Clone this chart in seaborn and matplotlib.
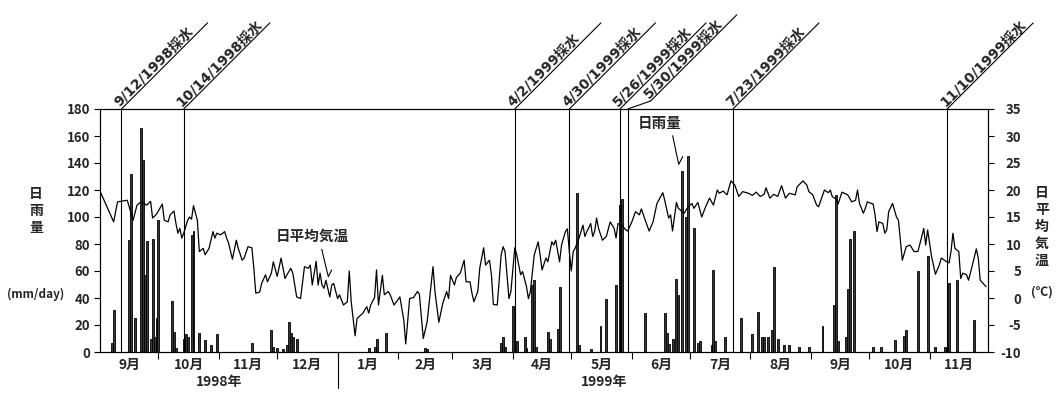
import numpy as np
import pandas as pd
import matplotlib
matplotlib.use('Agg')
import matplotlib.pyplot as plt
import matplotlib.transforms as mtransforms
import seaborn as sns

# ---------------- data ----------------
start = pd.Timestamp('1998-09-01')

# daily rainfall (day offset from 1998-09-01, mm/day)
rain_day = [6, 7, 15, 16, 18, 21, 22, 23, 24, 26, 27, 28, 29, 30, 37, 38, 39,
            43, 44, 45, 47, 48, 51, 54, 57, 60, 78, 88, 89, 91, 94, 96, 97, 98,
            99, 101, 138, 141, 142, 147, 167, 168, 206, 207, 208, 212, 214, 218,
            219, 222, 223, 224, 230, 231, 235, 236, 245, 246, 252, 257, 260, 265,
            267, 268, 280, 290, 291, 292, 294, 296, 297, 299, 301, 302, 305, 307,
            308, 314, 315, 316, 321, 329, 335, 338, 340, 341, 343, 345, 346, 348,
            351, 354, 359, 364, 371, 377, 378, 379, 383, 384, 385, 387, 397, 401,
            408, 413, 414, 420, 425, 429, 434, 435, 436, 440, 449]
rain_mm = [7, 31, 83, 132, 25, 166, 142, 57, 82, 10, 84, 11, 25, 98, 38, 15, 3,
           10, 13, 11, 87, 90, 14, 9, 5, 13, 7, 16, 4, 3, 2, 5, 22, 14,
           11, 10, 3, 4, 10, 14, 3, 2, 7, 11, 4, 34, 8, 11,
           3, 50, 53, 4, 15, 10, 17, 48, 118, 5, 2, 19, 39, 50,
           109, 113, 29, 29, 14, 6, 10, 54, 42, 134, 100, 145, 92, 7,
           8, 5, 61, 8, 11, 25, 13, 30, 11, 11, 11, 16, 63, 10,
           5, 5, 4, 4, 19, 35, 116, 8, 11, 47, 84, 90, 4, 4,
           9, 12, 16, 60, 71, 4, 4, 3, 51, 53, 24]

# daily mean air temperature (day offset, deg C)
temp_day = [0, 7, 9, 14, 17, 19, 21, 24, 26, 27, 29, 32, 33, 35, 36, 38, 39, 40,
            41, 42, 43, 45, 46, 47, 48, 50, 51, 53, 54, 56, 58, 59, 60, 62, 64,
            65, 66, 68, 70, 71, 73, 74, 76, 78, 79, 80, 82, 83, 85, 86, 88, 89,
            91, 93, 95, 96, 98, 99, 101, 103, 105, 107, 108, 109, 111, 112, 113,
            114, 115, 116, 118, 119, 120, 122, 123, 125, 127, 128, 129, 131, 132,
            135, 137, 138, 139, 141, 142, 143, 145, 146, 148, 149, 151, 154, 156,
            157, 159, 161, 163, 164, 166, 168, 171, 172, 174, 176, 178, 179, 180,
            182, 183, 185, 187, 188, 190, 191, 192, 194, 195, 197, 198, 200, 201,
            202, 204, 206, 207, 208, 210, 211, 213, 214, 216, 217, 219, 220, 221,
            223, 225, 226, 227, 229, 230, 232, 233, 234, 236, 237, 239, 240, 241,
            242, 243, 244, 246, 248, 249, 250, 252, 253, 254, 255, 256, 258, 260,
            262, 264, 265, 266, 268, 270, 271, 273, 275, 277, 278, 280, 282, 284,
            286, 289, 290, 292, 293, 294, 296, 297, 299, 300, 302, 304, 305, 307,
            309, 311, 313, 315, 317, 318, 320, 322, 324, 326, 328, 330, 333, 335,
            337, 339, 341, 342, 344, 346, 348, 350, 352, 354, 357, 358, 361, 363,
            364, 366, 368, 369, 372, 374, 375, 376, 378, 379, 381, 384, 386, 388,
            389, 390, 392, 393, 394, 397, 398, 399, 400, 402, 403, 404, 405, 407,
            409, 410, 412, 414, 416, 418, 420, 422, 423, 424, 425, 427, 429, 431,
            432, 434, 436, 437, 438, 439, 441, 442, 443, 445, 446, 448, 450, 451,
            452, 455]
temp_c = [19.8, 14.1, 17.8, 18.1, 14.4, 17.2, 17.8, 17.2, 17.9, 14.8, 15.5, 17.4,
          14.4, 14.1, 15.4, 16.1, 13.8, 12.0, 12.9, 11.1, 12.0, 14.4, 15.0, 14.6,
          17.1, 14.4, 8.6, 9.2, 8.0, 9.2, 12.3, 11.1, 12.0, 11.7, 12.3, 11.1, 10.2,
          7.2, 10.7, 9.2, 7.0, 7.4, 9.5, 9.3, 5.5, 0.9, 1.1, 2.7, 4.3, 3.0, 4.6,
          6.7, 4.0, 7.4, 3.6, 4.3, 5.5, 4.6, 0.2, -0.1, 5.8, 5.5, 6.1, 2.4, 6.8,
          2.4, 4.6, 2.4, 1.8, 3.3, 0.2, 2.4, 2.7, -0.1, 0.6, -1.3, -0.7, 5.0, -0.7,
          -7.0, -3.8, -2.8, -1.6, -2.8, -1.3, 0.1, 5.2, -1.3, 4.2, 0.6, 1.2, 0.6,
          -1.3, 0.2, -4.1, -8.5, -0.1, 0.1, 1.2, 0.7, -7.5, -4.4, 5.8, 1.2, -4.5,
          -1.0, 1.2, -0.1, 4.2, 2.4, 3.8, 4.6, 7.0, 3.0, 3.0, 0.9, -0.7, 1.2, 5.5,
          9.3, 6.1, 7.0, 4.3, -1.2, -1.3, 8.0, 9.5, 8.6, -0.1, 1.2, 9.3, 8.0, 4.3,
          4.9, 2.1, -0.1, 1.2, 8.0, 10.4, 8.0, 5.2, 7.4, 6.7, 10.4, 9.8, 10.7, 6.7,
          9.8, 12.3, 12.8, 8.6, 5.0, 8.6, 9.2, 11.1, 13.5, 11.4, 12.3, 13.8, 11.4,
          12.3, 14.8, 12.9, 10.7, 11.4, 14.1, 12.9, 11.1, 13.8, 13.5, 12.6, 12.4,
          14.0, 16.0, 15.4, 16.5, 14.4, 12.4, 14.1, 17.5, 19.5, 18.1, 14.8, 15.4,
          12.4, 17.7, 16.6, 16.0, 15.7, 16.9, 17.5, 16.6, 17.7, 15.0, 16.9, 18.5,
          17.2, 20.0, 19.4, 19.8, 19.1, 21.7, 20.9, 18.8, 19.7, 19.4, 19.0, 19.6,
          18.8, 19.2, 20.4, 18.5, 19.2, 18.8, 20.8, 18.5, 19.4, 19.1, 20.6, 21.7,
          20.9, 19.7, 19.1, 17.2, 16.9, 20.0, 19.5, 20.0, 18.8, 18.3, 17.4, 19.6,
          19.1, 17.8, 18.1, 20.0, 17.5, 15.7, 16.6, 17.8, 17.4, 15.4, 12.3, 14.1,
          13.8, 12.0, 12.6, 16.0, 17.5, 15.0, 14.4, 7.0, 9.5, 9.8, 8.6, 8.6, 11.4,
          12.9, 9.8, 12.6, 7.7, 4.4, 6.1, 7.4, 6.9, 6.5, 8.6, 12.0, 9.2, 8.6, 3.6,
          4.6, 4.3, 3.3, 6.1, 9.1, 7.4, 3.3, 2.1]

sample_dates = ['1998-09-12', '1998-10-14', '1999-04-02', '1999-04-30',
                '1999-05-26', '1999-05-30', '1999-07-23', '1999-11-10']
sample_labels = ['9/12/1998採水', '10/14/1998採水', '4/2/1999採水', '4/30/1999採水',
                 '5/26/1999採水', '5/30/1999採水', '7/23/1999採水', '11/10/1999採水']

month_labels = ['9月', '10月', '11月', '12月', '1月', '2月', '3月', '4月', '5月',
                '6月', '7月', '8月', '9月', '10月', '11月']
year_labels = ['1998年', '1999年']
year_label_dates = ['1998-11-01', '1999-05-18']

rain_ticks = list(range(0, 181, 20))
temp_ticks = list(range(-10, 36, 5))

# ---------------- style ----------------
sns.set_theme(style='white')
plt.rcParams['font.family'] = ['Noto Sans CJK JP', 'DejaVu Sans']
plt.rcParams['font.weight'] = 'bold'
plt.rcParams['axes.unicode_minus'] = False
label_family = ['DejaVu Sans', 'Noto Sans CJK JP']

fig = plt.figure(figsize=(10.56, 3.93), dpi=100)
ax = fig.add_axes([100 / 1056, 1 - 352 / 393, 888 / 1056, 243 / 393])

# rainfall bars
sns.barplot(x=rain_day, y=rain_mm, native_scale=True, errorbar=None, ax=ax,
            color='#383838', edgecolor='black', linewidth=0.6, width=1.0,
            saturation=1)

# temperature line
ax2 = ax.twinx()
sns.lineplot(x=temp_day, y=temp_c, ax=ax2, color='black', linewidth=0.9,
             estimator=None, sort=False)

ndays = (pd.Timestamp('1999-12-01') - start).days
ax.set_xlim(0, ndays)
ax.set_ylim(0, 180)
ax.set_yticks(rain_ticks)
ax2.set_ylim(-10, 35)
ax2.set_yticks(temp_ticks)
for a in (ax, ax2):
    a.set_xlabel('')
    a.set_ylabel('')
    for s in a.spines.values():
        s.set_color('black')
        s.set_linewidth(0.8)

# month boundary ticks and month labels
bounds = pd.date_range('1998-10-01', '1999-11-01', freq='MS')
bound_days = [(b - start).days for b in bounds]
all_bounds = [0] + bound_days + [ndays]
mid_days = [(all_bounds[i] + all_bounds[i + 1]) / 2 for i in range(len(all_bounds) - 1)]
ax.set_xticks(bound_days)
ax.set_xticklabels([''] * len(bound_days))
ax.set_xticks(mid_days, minor=True)
ax.set_xticklabels(month_labels, minor=True, fontsize=10, fontweight='bold')
ax.tick_params(axis='x', which='major', direction='out', length=5, width=0.8,
               color='black', bottom=True)
ax.tick_params(axis='x', which='minor', length=0, pad=4)

# year separator
jan1 = (pd.Timestamp('1999-01-01') - start).days
ax.plot([jan1, jan1], [0, -0.148], transform=ax.get_xaxis_transform(),
        clip_on=False, color='black', lw=0.8)
for lab, d in zip(year_labels, year_label_dates):
    ax.text((pd.Timestamp(d) - start).days, -0.122, lab,
            transform=ax.get_xaxis_transform(), ha='center', va='center',
            fontsize=10, fontweight='bold')

# y ticks
ax.tick_params(axis='y', which='major', direction='out', length=4, width=0.8,
               color='black', left=True, labelsize=9.5, pad=3)
ax2.tick_params(axis='y', which='major', direction='out', length=4, width=0.8,
                color='black', right=True, labelsize=9.5, pad=20)
for t in ax2.get_yticklabels():
    t.set_horizontalalignment('right')
for t in ax.get_yticklabels() + ax2.get_yticklabels():
    t.set_fontweight('bold')

# axis titles
fig.text(36 / 1056, 1 - 211 / 393, '日\n雨\n量', ha='center', va='center',
         fontsize=10, fontweight='bold', linespacing=1.25)
fig.text(36 / 1056, 1 - 294 / 393, '(mm/day)', ha='center', va='center',
         fontsize=8.5, fontweight='bold')
fig.text(1042 / 1056, 1 - 227 / 393, '日\n平\n均\n気\n温', ha='center', va='center',
         fontsize=10, fontweight='bold', linespacing=1.25)
fig.text(1042 / 1056, 1 - 292 / 393, '(℃)', ha='center', va='center',
         fontsize=9, fontweight='bold')

# sampling lines and labels
sample_day = [(pd.Timestamp(s) - start).days for s in sample_dates]
kinks = {'5/30/1999採水': (16.5, 5.8)}
diag = 62  # points along each direction
xtr = ax.get_xaxis_transform()
line_kw = dict(arrowstyle='-', lw=0.8, color='black', shrinkA=0, shrinkB=0)
for d, lab in zip(sample_day, sample_labels):
    ax.axvline(d, color='black', lw=0.8, zorder=4)
    kx, ky = kinks.get(lab, (0, 0))
    base = mtransforms.offset_copy(xtr, fig=fig, x=kx, y=ky, units='points')
    if kx or ky:
        ax.annotate('', xy=(d, 1), xycoords=xtr, xytext=(d, 1), textcoords=base,
                    arrowprops=line_kw, annotation_clip=False)
    ax.annotate('', xy=(d, 1), xycoords=base, xytext=(diag, diag),
                textcoords='offset points', arrowprops=line_kw,
                annotation_clip=False)
    ax.text(d, 1, lab, transform=base, rotation=45, rotation_mode='anchor',
            ha='left', va='bottom', fontsize=10, fontweight='bold',
            family=label_family, clip_on=False)

# callouts
ax.text(0.2393, 0.4786, '日平均気温', transform=ax.transAxes, ha='center',
        va='center', fontsize=10.5, fontweight='bold')
ax.plot([0.2497, 0.2571, 0.2609], [0.4226, 0.310, 0.3374], transform=ax.transAxes,
        color='black', lw=0.8, clip_on=False)
ax.text(0.630, 0.942, '日雨量', transform=ax.transAxes, ha='center',
        va='center', fontsize=10.5, fontweight='bold')
ax.plot([0.6449, 0.6517, 0.6562], [0.890, 0.772, 0.804], transform=ax.transAxes,
        color='black', lw=0.8, clip_on=False)

fig.savefig('out.png', dpi=100, facecolor='white')
